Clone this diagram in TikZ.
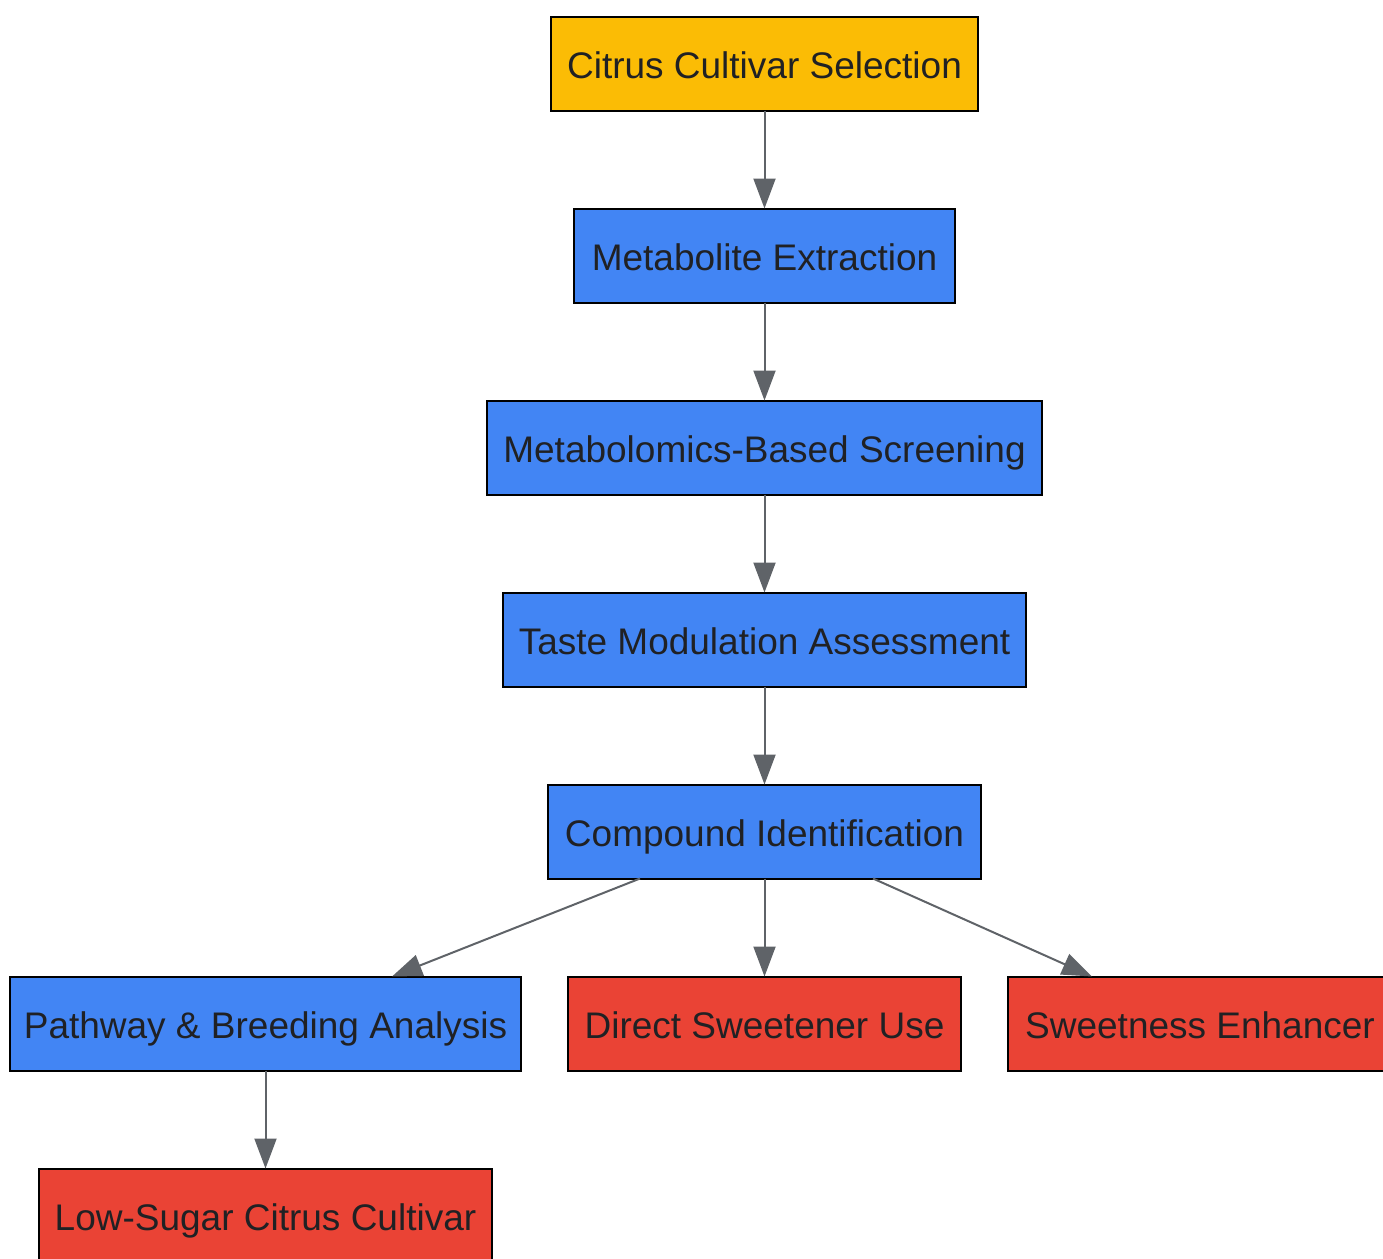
\documentclass[tikz,border=0pt]{standalone}
\usepackage{fontspec}
\setmainfont{Liberation Sans}
\usetikzlibrary{arrows.meta}
\definecolor{gyellow}{HTML}{FBBC05}
\definecolor{gblue}{HTML}{4285F4}
\definecolor{gred}{HTML}{EA4335}
\definecolor{edgegray}{HTML}{5F6368}
\definecolor{txt}{HTML}{202124}
\begin{document}
\begin{tikzpicture}[x=1pt,y=-1pt,
  box/.style={draw=black,line width=2pt,minimum height=94pt,inner sep=0pt,outer sep=0pt,
    text height=29.6pt,text depth=0pt,
    font=\fontsize{37}{40}\selectfont,text=txt},
  startbox/.style={box,fill=gyellow},
  procbox/.style={box,fill=gblue},
  endbox/.style={box,fill=gred},
  flow/.style={draw=edgegray,line width=2pt,-{Triangle[length=30pt,width=22pt]}}]
\useasboundingbox (0,0) rectangle (1383,1258);
\node[startbox,minimum width=427pt] (sel) at (764.5,63.5) {Citrus Cultivar Selection};
\node[procbox,minimum width=381pt] (ext) at (764.5,255.5) {Metabolite Extraction};
\node[procbox,minimum width=555pt] (scr) at (764.5,447.5) {Metabolomics-Based Screening};
\node[procbox,minimum width=523pt] (taste) at (764.5,639.5) {Taste Modulation Assessment};
\node[procbox,minimum width=433pt] (comp) at (764.5,831.5) {Compound Identification};
\node[procbox,minimum width=511pt] (path) at (265.5,1023.5) {Pathway \& Breeding Analysis};
\node[endbox,minimum width=393pt] (direct) at (764.5,1023.5) {Direct Sweetener Use};
\node[endbox,minimum width=384pt] (enh) at (1200,1023.5) {Sweetness Enhancer};
\node[endbox,minimum width=453pt] (low) at (265.5,1215.5) {Low-Sugar Citrus Cultivar};
\draw[flow] (sel) -- (ext);
\draw[flow] (ext) -- (scr);
\draw[flow] (scr) -- (taste);
\draw[flow] (taste) -- (comp);
\draw[flow] ([xshift=-124.5pt]comp.south) -- ([xshift=126.5pt]path.north);
\draw[flow] (comp) -- (direct);
\draw[flow] ([xshift=108.5pt]comp.south) -- ([xshift=-108pt]enh.north);
\draw[flow] (path) -- (low);
\end{tikzpicture}
\end{document}
